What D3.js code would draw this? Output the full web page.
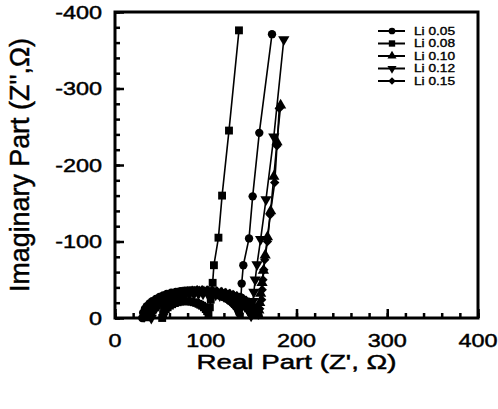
<!DOCTYPE html>
<html>
<head>
<meta charset="utf-8">
<script src="https://cdnjs.cloudflare.com/ajax/libs/d3/7.8.5/d3.min.js"></script>
<style>
  body { margin: 0; background: #fff; }
  svg { display: block; font-family: "Liberation Sans", Arial, sans-serif; }
  svg text { fill: #000; stroke: #000; stroke-width: 0.45px; }
</style>
</head>
<body>
<div id="chart"></div>
<script>
// Nyquist plots, [Z' (ohm), Z'' (ohm)]
var li005 = [[30,0],[31,-7],[33,-12],[35,-15.5],[38,-19],[41,-22],[45,-25],[49,-27.5],[53,-29.5],[57,-31.3],
  [62,-33],[67,-34.2],[72,-35],[77,-35.7],[82,-36],[87,-36],[92,-35.6],[97,-35],[102,-34],[107,-32.7],
  [111,-31],[115,-29.4],[119,-27.5],[123,-25],[126,-22.5],[129,-20],[131,-17.7],[133,-15],[135,-12],
  [136,-9],[137,-6],[138,-14],[138.8,-27],[139.6,-45],[141.4,-69],[147.7,-104],[151.7,-159],[159,-242],
  [173,-371]];
var li008 = [[52,0],[53,-5],[54,-8.5],[56,-11.5],[58,-14],[60.5,-16.2],[63,-18],[66,-19.5],[69,-20.6],
  [72,-21.4],[75,-21.8],[78,-22],[81,-21.8],[84,-21.3],[87,-20.6],[89.5,-19.7],[92,-18.5],[94,-17.3],
  [96,-16],[98,-14],[100,-11.7],[101.5,-9],[103,-6],[104.5,-14],[105.5,-24],[106.5,-35],[107.6,-46],
  [109,-69],[114,-105],[118,-160],[125.6,-245],[136.6,-376]];
var li010 = [[36,0],[37,-6],[39,-10.5],[41.5,-14],[44,-16.8],[47.5,-19.8],[51,-22.3],[55,-24.6],[59,-26.6],
  [63.5,-28.4],[68,-29.9],[73,-31.2],[78,-32.3],[83,-33],[88,-33.6],[93,-33.9],[98,-34],[103,-33.8],
  [108,-33.4],[113,-32.7],[118,-31.9],[122.5,-30.8],[127,-29.6],[131,-28.2],[135,-26.6],[138.5,-24.8],
  [142,-22.9],[145,-20.8],[148,-18.6],[150.5,-16],[153,-13.5],[154.5,-11],[156,-8.6],[157,-6],[158,-4],
  [158.5,-10],[159.5,-20],[160.5,-32],[162,-46],[163.5,-62],[165.5,-82],[168,-106],[171.5,-140],
  [175,-185],[178.5,-230],[182.5,-278]];
var li012 = [[40,0],[41,-6],[43,-10.4],[45.5,-13.7],[48,-16.6],[51.5,-19.4],[55,-21.9],[59,-24],[63,-25.9],
  [67.5,-27.5],[72,-29],[77,-30.1],[82,-31],[87,-31.5],[92,-31.8],[97,-31.8],[102,-31.6],[106.5,-31.1],
  [111,-30.5],[115.5,-29.5],[120,-28.4],[124,-27],[128,-25.5],[131.5,-23.8],[135,-21.9],[138,-19.8],
  [141,-17.5],[143,-15.5],[145,-13.3],[146.5,-11],[148,-8.5],[149,-6],[150,-3],[151,-12],[152,-22],
  [153,-34],[154.5,-50],[156.5,-70],[160.5,-103],[166.4,-155],[175,-237],[186,-364]];
var li015 = [[32,0],[33,-6.5],[35,-11.3],[37.5,-14.8],[40,-18],[43.5,-21.2],[47,-24],[51,-26.4],[55,-28.6],
  [59.5,-30.5],[64,-32.2],[69,-33.7],[74,-34.9],[79.5,-35.8],[85,-36.5],[90.5,-36.9],[96,-37],[101.5,-36.8],
  [107,-36.3],[112,-35.5],[117,-34.6],[121.5,-33.5],[126,-32.2],[130,-30.7],[134,-29],[137.5,-27.2],
  [141,-25.3],[144,-23.2],[147,-20.9],[149.5,-18.4],[152,-15.8],[154,-13],[155.5,-10.3],[157,-7],[158,-4],
  [159.5,-12],[161.6,-24],[162.2,-37],[163,-50],[164,-63],[165,-76],[168,-100],[171,-135],[176,-177],
  [178.5,-225],[181,-274]];

var seriesNames = ["Li 0.05", "Li 0.08", "Li 0.10", "Li 0.12", "Li 0.15"];
var xTicks = [0, 100, 200, 300, 400];
var yTicks = [0, -100, -200, -300, -400];

var width = 498, height = 409;
var margin = {top: 12, right: 20, bottom: 91, left: 115};

var svg = d3.select("#chart").append("svg")
  .attr("width", width)
  .attr("height", height);

var x = d3.scaleLinear().domain([0, 400]).range([margin.left, width - margin.right]);
var y = d3.scaleLinear().domain([0, -400]).range([height - margin.bottom, margin.top]);

// stretch text horizontally, the scan is wider than it is tall
function stretch(sel, k) {
  sel.each(function() {
    var w = this.getComputedTextLength();
    d3.select(this).attr("textLength", w * k).attr("lengthAdjust", "spacingAndGlyphs");
  });
}

//Minor ticks every 20, pointing into the plot
var xMinor = d3.axisTop(x).tickValues(d3.range(0, 401, 20)).tickSize(5).tickFormat("");
var yMinor = d3.axisRight(y).tickValues(d3.range(0, -401, -20)).tickSize(5).tickFormat("");
var xMajor = d3.axisTop(x).tickValues(xTicks).tickSize(9).tickFormat("");
var yMajor = d3.axisRight(y).tickValues(yTicks).tickSize(9).tickFormat("");

[xMinor, xMajor].forEach(function(ax) {
  svg.append("g").attr("transform", "translate(0," + y(0) + ")").call(ax)
    .call(function(g) { g.select(".domain").remove(); })
    .selectAll("line").attr("stroke", "#000").attr("stroke-width", 2.5);
});
[yMinor, yMajor].forEach(function(ax) {
  svg.append("g").attr("transform", "translate(" + x(0) + ",0)").call(ax)
    .call(function(g) { g.select(".domain").remove(); })
    .selectAll("line").attr("stroke", "#000").attr("stroke-width", 2.5);
});

//Frame
svg.append("rect")
  .attr("x", x(0)).attr("y", y(-400))
  .attr("width", x(400) - x(0)).attr("height", y(0) - y(-400))
  .attr("fill", "none").attr("stroke", "#000").attr("stroke-width", 3);

//Tick labels
svg.append("g").selectAll("text").data(xTicks).enter().append("text")
  .attr("x", function(d) { return x(d); })
  .attr("y", 347)
  .attr("text-anchor", "middle")
  .style("font-size", "18px")
  .text(function(d) { return String(d); })
  .call(stretch, 1.3);

svg.append("g").selectAll("text").data(yTicks).enter().append("text")
  .attr("x", x(0) - 13)
  .attr("y", function(d) { return y(d); })
  .attr("dy", "0.37em")
  .attr("text-anchor", "end")
  .style("font-size", "18px")
  .text(function(d) { return String(d); })
  .call(stretch, 1.3);

//Axis titles
svg.append("text")
  .attr("x", (x(0) + x(400)) / 2)
  .attr("y", 369)
  .attr("text-anchor", "middle")
  .style("font-size", "20px")
  .attr("textLength", 200).attr("lengthAdjust", "spacingAndGlyphs")
  .text("Real Part (Z', \u03A9)");

svg.append("text")
  .attr("transform", "translate(29," + ((y(0) + y(-400)) / 2) + ") rotate(-90)")
  .attr("text-anchor", "middle")
  .style("font-size", "27px")
  .attr("textLength", 254).attr("lengthAdjust", "spacingAndGlyphs")
  .text("Imaginary Part (Z'',\u03A9)");

//Series
var allSeries = [li005, li008, li010, li012, li015];
var symbols = [
  {type: d3.symbolCircle, size: 55, rot: 0},
  {type: d3.symbolSquare, size: 62, rot: 0},
  {type: d3.symbolTriangle, size: 55, rot: 0},
  {type: d3.symbolTriangle, size: 55, rot: 180},
  {type: d3.symbolSquare, size: 44, rot: 45}
];

var line = d3.line()
  .x(function(d) { return x(d[0]); })
  .y(function(d) { return y(d[1]); });

allSeries.forEach(function(data, i) {
  var g = svg.append("g").attr("class", "series");
  g.append("path")
    .datum(data)
    .attr("d", line)
    .attr("fill", "none")
    .attr("stroke", "#000")
    .attr("stroke-width", 1.6);
  g.selectAll("path.pt").data(data).enter().append("path")
    .attr("class", "pt")
    .attr("d", d3.symbol().type(symbols[i].type).size(symbols[i].size))
    .attr("transform", function(d) {
      return "translate(" + x(d[0]) + "," + y(d[1]) + ") rotate(" + symbols[i].rot + ")";
    })
    .attr("fill", "#000");
});

//Legend
var legend = svg.append("g");
seriesNames.forEach(function(name, i) {
  var ly = 31 + i * 12.5;
  legend.append("line")
    .attr("x1", 378).attr("x2", 405).attr("y1", ly).attr("y2", ly)
    .attr("stroke", "#000").attr("stroke-width", 2);
  legend.append("path")
    .attr("d", d3.symbol().type(symbols[i].type).size(symbols[i].size * 0.65))
    .attr("transform", "translate(392," + ly + ") rotate(" + symbols[i].rot + ")")
    .attr("fill", "#000");
  legend.append("text")
    .attr("x", 414).attr("y", ly).attr("dy", "0.36em")
    .style("font-size", "10.5px")
    .style("stroke-width", "0.35px")
    .attr("textLength", 41).attr("lengthAdjust", "spacingAndGlyphs")
    .text(name);
});
</script>
</body>
</html>
